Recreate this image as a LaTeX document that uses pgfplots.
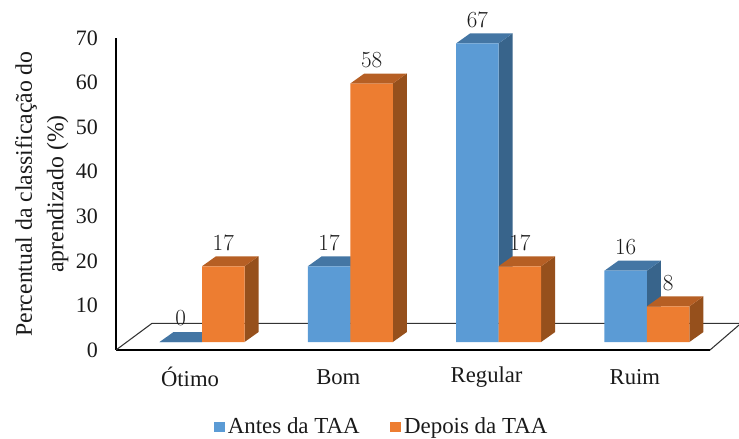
\documentclass[border=0pt]{standalone}
\usepackage{fontspec}
\setmainfont{Liberation Serif}
\usepackage{pgfplots}
\pgfplotsset{compat=1.18}
\newcommand\ff{\fontsize{16.5pt}{19.8pt}\selectfont}
\newcommand\fx{\fontsize{17pt}{20pt}\selectfont}
\newcommand\fl{\fontsize{17.8pt}{20.6pt}\selectfont}
\newcommand\fg{\fontsize{17.2pt}{20pt}\selectfont}
\definecolor{bfront}{HTML}{5B9BD5}
\definecolor{bside}{HTML}{38648B}
\definecolor{btop}{HTML}{4476A4}
\definecolor{ofront}{HTML}{ED7D31}
\definecolor{oside}{HTML}{96501C}
\definecolor{otop}{HTML}{B65F24}
\definecolor{txt}{HTML}{1A1A1A}
\begin{document}
\begin{tikzpicture}
\useasboundingbox (0,0) rectangle (554.25pt,329.25pt);
\begin{axis}[
  at={(87pt,66.75pt)}, anchor=south west,
  scale only axis, width=445.5pt, height=234pt,
  xmin=-0.58, xmax=3.4255, ymin=-1.79, ymax=68.21,
  clip=false,
  axis y line=left, axis x line=bottom,
  axis line style={-, line width=1.1pt, black},
  major tick length=0pt, tick style={draw=none},
  xtick={0,1,2,3}, xticklabels={Ótimo,Bom,Regular,Ruim},
  ytick={-1.79,8.21,18.21,28.21,38.21,48.21,58.21,68.21},
  yticklabels={0,10,20,30,40,50,60,70},
  tick label style={text=txt},
  xticklabel style={font=\fx, anchor=center, xshift=-9pt, yshift=-20.5pt},
  yticklabel style={font=\ff, anchor=east, xshift=-10pt},
  ylabel={Percentual da classificação do\\[3pt]aprendizado (\%)},
  ylabel style={at={(axis description cs:-0.125,0.5)}, anchor=center, align=center, font=\fl, text=txt},
  legend columns=2,
  legend style={at={(axis description cs:0.448,-0.2468)}, anchor=center, draw=none, fill=none, font=\fg, text=txt,
    /tikz/every even column/.append style={column sep=21pt}},
  legend image code/.code={\path[#1] (0pt,-4.1pt) rectangle (8.25pt,4.1pt);},
]
% floor
\addplot[forget plot, no markers, draw=black!80, line width=0.8pt] coordinates {(-0.58,-1.79) (-0.337,4.2) (3.621,4.2)};
\addplot[forget plot, no markers, draw=black!80, line width=0.8pt] coordinates {(3.4255,-1.79) (3.621,3.81)};
% blue sides and tops
\addplot[forget plot, fill=btop, draw=none] coordinates {(-0.2866,0)(0,0)(0.0944,2.24)(-0.1922,2.24)} -- cycle;
\addplot[forget plot, fill=bside, draw=none] coordinates {(1,0)(1.0944,2.24)(1.0944,19.24)(1,17)} -- cycle;
\addplot[forget plot, fill=btop, draw=none] coordinates {(0.7134,17)(1,17)(1.0944,19.24)(0.8078,19.24)} -- cycle;
\addplot[forget plot, fill=bside, draw=none] coordinates {(2,0)(2.0944,2.24)(2.0944,69.24)(2,67)} -- cycle;
\addplot[forget plot, fill=btop, draw=none] coordinates {(1.7134,67)(2,67)(2.0944,69.24)(1.8078,69.24)} -- cycle;
\addplot[forget plot, fill=bside, draw=none] coordinates {(3,0)(3.0944,2.24)(3.0944,18.24)(3,16)} -- cycle;
\addplot[forget plot, fill=btop, draw=none] coordinates {(2.7134,16)(3,16)(3.0944,18.24)(2.8078,18.24)} -- cycle;
% blue fronts
\addplot[ybar, bar width=31.9pt, bar shift=-15.95pt, fill=bfront, draw=none,
  nodes near coords, every node near coord/.append style={font=\ff, text=txt, anchor=center, xshift=-15.95pt, yshift=17.6pt}]
  coordinates {(0,0)(1,17)(2,67)(3,16)};
\addlegendentry{Antes da TAA}
% orange sides and tops
\addplot[forget plot, fill=oside, draw=none] coordinates {(0.2866,0)(0.381,2.24)(0.381,19.24)(0.2866,17)} -- cycle;
\addplot[forget plot, fill=otop, draw=none] coordinates {(0,17)(0.2866,17)(0.381,19.24)(0.0944,19.24)} -- cycle;
\addplot[forget plot, fill=oside, draw=none] coordinates {(1.2866,0)(1.381,2.24)(1.381,60.24)(1.2866,58)} -- cycle;
\addplot[forget plot, fill=otop, draw=none] coordinates {(1,58)(1.2866,58)(1.381,60.24)(1.0944,60.24)} -- cycle;
\addplot[forget plot, fill=oside, draw=none] coordinates {(2.2866,0)(2.381,2.24)(2.381,19.24)(2.2866,17)} -- cycle;
\addplot[forget plot, fill=otop, draw=none] coordinates {(2,17)(2.2866,17)(2.381,19.24)(2.0944,19.24)} -- cycle;
\addplot[forget plot, fill=oside, draw=none] coordinates {(3.2866,0)(3.381,2.24)(3.381,10.24)(3.2866,8)} -- cycle;
\addplot[forget plot, fill=otop, draw=none] coordinates {(3,8)(3.2866,8)(3.381,10.24)(3.0944,10.24)} -- cycle;
% orange fronts
\addplot[ybar, bar width=31.9pt, bar shift=15.95pt, fill=ofront, draw=none,
  nodes near coords, every node near coord/.append style={font=\ff, text=txt, anchor=center, xshift=15.95pt, yshift=17.6pt}]
  coordinates {(0,17)(1,58)(2,17)(3,8)};
\addlegendentry{Depois da TAA}
\end{axis}
\end{tikzpicture}
\end{document}
